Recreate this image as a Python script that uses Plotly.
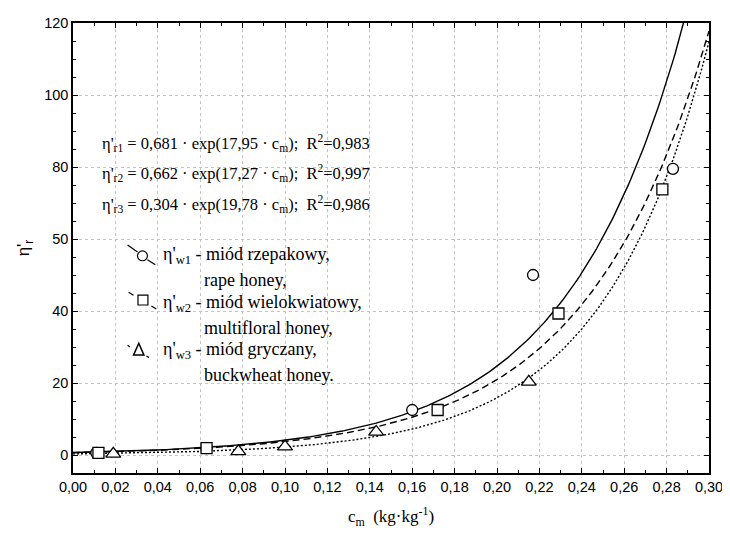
import numpy as np
import plotly.graph_objects as go

# measured points
x_w1 = [0.011, 0.063, 0.160, 0.217, 0.283]
y_w1 = [0.6, 1.9, 12.5, 50.0, 79.5]
x_w2 = [0.012, 0.063, 0.172, 0.229, 0.278]
y_w2 = [0.6, 1.9, 12.5, 39.3, 73.8]
x_w3 = [0.019, 0.078, 0.100, 0.143, 0.215]
y_w3 = [0.3, 1.0, 2.3, 6.4, 20.3]

# fitted model coefficients printed on the chart: eta = a*exp(b*c)
fit_a = [0.681, 0.662, 0.304]
fit_b = [17.95, 17.27, 19.78]
fit_a_txt = ["0,681", "0,662", "0,304"]
fit_b_txt = ["17,95", "17,27", "19,78"]
fit_r2_txt = ["0,983", "0,997", "0,986"]

x_ticks = [0.00, 0.02, 0.04, 0.06, 0.08, 0.10, 0.12, 0.14, 0.16, 0.18, 0.20, 0.22, 0.24, 0.26, 0.28, 0.30]
x_tick_text = ["0,00", "0,02", "0,04", "0,06", "0,08", "0,10", "0,12", "0,14", "0,16", "0,18",
               "0,20", "0,22", "0,24", "0,26", "0,28", "0,30"]
y_ticks = [0, 20, 40, 60, 80, 100, 120]
y_tick_text = ["0", "20", "40", "50", "80", "100", "120"]

legend_main = ["η'<sub>w1</sub> - miód rzepakowy,", "η'<sub>w2</sub> - miód wielokwiatowy,", "η'<sub>w3</sub> - miód gryczany,"]
legend_sub = ["rape honey,", "multifloral honey,", "buckwheat honey."]

SERIF = "Liberation Serif, Times New Roman, serif"
SANS = "Liberation Sans, Arial, sans-serif"

# plot area in reference pixel coordinates (used only to place decorations in paper space)
PL, PR, PT, PB = 73.0, 714.0, 15.0, 473.0


def px(X):
    return (X - PL) / (PR - PL)


def py(Y):
    return (PB - Y) / (PB - PT)


fig = go.Figure()
xc = np.linspace(0.0, 0.30, 301)
dashes = ["solid", "7px,4px", "2px,2px"]
for a, b, d in zip(fit_a, fit_b, dashes):
    fig.add_trace(go.Scatter(x=xc, y=a * np.exp(b * xc), mode="lines",
                             line=dict(color="black", width=1.4, dash=d),
                             showlegend=False, hoverinfo="skip"))

for xs, ys, sym, sz in [(x_w1, y_w1, "circle", 11), (x_w2, y_w2, "square", 11), (x_w3, y_w3, "triangle-up", 13)]:
    fig.add_trace(go.Scatter(x=xs, y=ys, mode="markers",
                             marker=dict(symbol=sym, size=sz, color="white",
                                         line=dict(color="black", width=1.3)),
                             showlegend=False))

# equations
eq_y = [137, 168, 199]
for i in range(3):
    fig.add_annotation(
        text=f"η'<sub>r{i+1}</sub> = {fit_a_txt[i]} · exp({fit_b_txt[i]} · c<sub>m</sub>);  R<sup>2</sup>={fit_r2_txt[i]}",
        xref="paper", yref="paper", x=px(100), y=py(eq_y[i]),
        xanchor="left", yanchor="middle", showarrow=False,
        font=dict(family=SERIF, size=16.5, color="black"))

# legend block
leg_y = [252, 300, 348]
for i in range(3):
    fig.add_annotation(text=legend_main[i], xref="paper", yref="paper",
                       x=px(162), y=py(leg_y[i]),
                       xanchor="left", yanchor="middle", showarrow=False,
                       font=dict(family=SERIF, size=18, color="black"))
    fig.add_annotation(text=legend_sub[i], xref="paper", yref="paper",
                       x=px(203), y=py(leg_y[i] + 25),
                       xanchor="left", yanchor="middle", showarrow=False,
                       font=dict(family=SERIF, size=18, color="black"))

lw = dict(color="black", width=1.2)
# circle icon with solid line
fig.add_shape(type="line", xref="paper", yref="paper", x0=px(128), y0=py(241), x1=px(138), y1=py(248), line=lw)
fig.add_shape(type="line", xref="paper", yref="paper", x0=px(148), y0=py(256), x1=px(156), y1=py(261), line=lw)
fig.add_shape(type="circle", xref="paper", yref="paper", x0=px(138), x1=px(148), y0=py(247), y1=py(257),
              line=dict(color="black", width=1.2), fillcolor="white")
# square icon with dashes
fig.add_shape(type="line", xref="paper", yref="paper", x0=px(129), y0=py(289), x1=px(134), y1=py(292), line=lw)
fig.add_shape(type="line", xref="paper", yref="paper", x0=px(152), y0=py(303), x1=px(157), y1=py(306), line=lw)
fig.add_shape(type="rect", xref="paper", yref="paper", x0=px(138.5), x1=px(148.5), y0=py(292), y1=py(302),
              line=dict(color="black", width=1.2), fillcolor="white")
# triangle icon with dots
fig.add_shape(type="line", xref="paper", yref="paper", x0=px(128), y0=py(343), x1=px(132), y1=py(346),
              line=dict(color="black", width=1.2, dash="dot"))
fig.add_shape(type="line", xref="paper", yref="paper", x0=px(147), y0=py(354), x1=px(152), y1=py(357),
              line=dict(color="black", width=1.2, dash="dot"))
fig.add_shape(type="path", xref="paper", yref="paper",
              path=f"M {px(134)},{py(353)} L {px(144.5)},{py(353)} L {px(139.3)},{py(341)} Z",
              line=dict(color="black", width=1.5), fillcolor="white")

axis_common = dict(showline=True, linecolor="black", linewidth=1.5, mirror="allticks",
                   ticks="inside", ticklen=5, tickcolor="black", ticklabeloverflow="allow",
                   showgrid=True, gridcolor="#c4c4c4", griddash="dot", gridwidth=1,
                   zeroline=False, tickfont=dict(family=SANS, size=14.5, color="black"))

fig.update_xaxes(range=[0, 0.30], tickvals=x_ticks, ticktext=x_tick_text,
                 minor=dict(ticks="inside", ticklen=3, dtick=0.01, tick0=0, tickcolor="black", showgrid=False),
                 title=dict(text="c<sub>m</sub>  (kg·kg<sup>-1</sup>)", font=dict(family=SERIF, size=17, color="black"), standoff=16),
                 **axis_common)
fig.update_yaxes(range=[-5, 120], tickvals=y_ticks, ticktext=y_tick_text,
                 minor=dict(ticks="inside", ticklen=3, dtick=5, tick0=0, tickcolor="black", showgrid=False),
                 title=dict(text="η'<sub>r</sub>", font=dict(family=SANS, size=17, color="black"), standoff=10),
                 **axis_common)

# page body has an 8px margin: figure is 8px smaller so the page fits the window without scrollbars,
# and the plot area is shifted 8px up/left to land where the reference has it
fig.update_layout(width=722, height=532, margin=dict(l=65, r=16, t=7, b=67),
                  plot_bgcolor="white", paper_bgcolor="white",
                  showlegend=False)
fig.write_html("out.html")
